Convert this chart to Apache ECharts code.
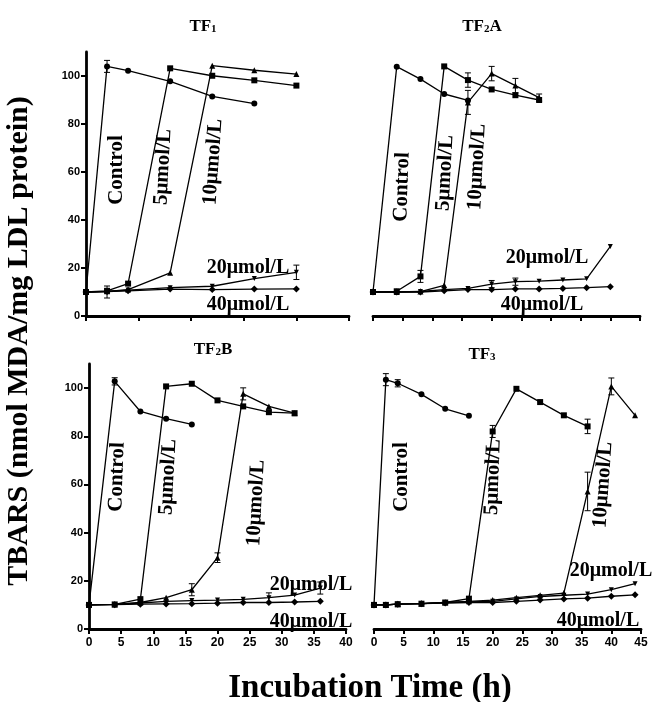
<!DOCTYPE html>
<html>
<head>
<meta charset="utf-8">
<script src="https://cdn.jsdelivr.net/npm/echarts@6/dist/echarts.min.js"></script>
<style>html,body{margin:0;padding:0;background:#fff}#c{width:654px;height:702px}</style>
</head>
<body>
<div id="c"></div>
<script>
// ---- data ----
var yTicks = [0, 20, 40, 60, 80, 100];
var seriesNames = ['Control', '5\u03bcmol/L', '10\u03bcmol/L', '20\u03bcmol/L', '40\u03bcmol/L'];

// TF1
var tf1Times = [0, 4, 8, 16, 24, 32, 40];
var tf1Control = [10, 104, 102.2, 97.8, 91.5, 88.5];
var tf1C5 = [10, 10.5, 13.5, 103.2, 100.1, 98.2, 96];
var tf1C10 = [10, 10.3, 11, 18, 104.3, 102.4, 100.8];
var tf1C20 = [10, 10.2, 10.8, 11.8, 12.4, 15.6, 18.2];
var tf1C40 = [10, 10.2, 10.5, 11.2, 11, 11.2, 11.3];
var tf1Err = [[4, 104, 2.5], [4, 10, 2.5], [40, 18.2, 3]];

// TF2A
var tf2aTimes = [0, 4, 8, 12, 16, 20, 24, 28, 32, 36, 40];
var tf2aControl = [10, 103.9, 98.7, 92.5, 89.8];
var tf2aC5 = [10, 10.3, 16.5, 104, 98.3, 94.4, 92, 90];
var tf2aC10 = [10, 10, 10.2, 12.8, 89, 101, 96, 91];
var tf2aC20 = [10, 10, 10.2, 11, 11.5, 13.3, 14.3, 14.5, 15, 15.5, 29];
var tf2aC40 = [10, 10, 10, 10.5, 11, 11, 11.3, 11.3, 11.5, 11.8, 12.2];
var tf2aErr = [[8, 16.5, 2.5], [16, 98.3, 3], [16, 89, 5], [20, 101, 3], [24, 96, 3], [28, 91, 1.5], [20, 13.3, 1.5], [24, 14.3, 1.5]];

// TF2B
var tf2bTimes = [0, 4, 8, 12, 16, 20, 24, 28, 32, 36];
var tf2bControl = [10, 102.8, 90.3, 87.3, 84.9];
var tf2bC5 = [10, 10.2, 12.4, 100.7, 101.8, 94.9, 92.4, 90, 89.6];
var tf2bC10 = [10, 10.2, 11, 13, 16.3, 29.6, 97.6, 92.4, 89.6];
var tf2bC20 = [10, 10.2, 10.8, 11.5, 11.8, 12, 12.3, 13, 14.1, 17];
var tf2bC40 = [10, 10.1, 10.3, 10.4, 10.5, 10.7, 11, 11, 11.2, 11.5];
var tf2bErr = [[4, 102.8, 1.5], [16, 16.3, 2.5], [20, 29.6, 2], [24, 97.6, 2.5], [28, 13, 2], [36, 17, 2.5]];

// TF3
var tf3Times = [0, 2, 4, 8, 12, 16, 20, 24, 28, 32, 36, 40, 44];
var tf3Control = [10, 103.5, 102, 97.4, 91.4, 88.5];
var tf3C5 = [10, 10, 10.3, 10.5, 11, 12.6, 82, 99.7, 94.2, 88.7, 84.1];
var tf3C10 = [10, 10, 10.3, 10.5, 11, 11.5, 12, 13, 14, 14.9, 57.1, 100.7, 88.7];
var tf3C20 = [10, 10, 10.3, 10.5, 11, 11.2, 11.5, 12.5, 13.5, 14, 14.5, 16.3, 18.8];
var tf3C40 = [10, 10, 10.3, 10.5, 10.8, 11, 11, 11.5, 12, 12.5, 12.8, 13.6, 14.2];
var tf3Err = [[2, 103.5, 2.5], [4, 102, 1.5], [20, 82, 2.5], [36, 84.1, 3], [36, 57.1, 8], [40, 100.7, 3.5]];

// ---- build ----
var chart = echarts.init(document.getElementById('c'), null, {renderer: 'canvas'});
var serif = '"Liberation Serif", "Times New Roman", serif';
var sans = '"Liberation Sans", Arial, sans-serif';

var grids = [
  {left: 86, top: 52, width: 263, height: 264},
  {left: 373, top: 52, width: 267, height: 264},
  {left: 89, top: 364, width: 257, height: 265},
  {left: 374, top: 364, width: 267, height: 265}
];
var xRanges = [[0, 50, 10], [0, 45, 5], [0, 40, 5], [0, 45, 5]];
var showXLabels = [false, false, true, true];
var showYAxis = [true, false, true, false];

var xAxes = grids.map(function (g, i) {
  return {
    type: 'value', gridIndex: i, min: xRanges[i][0], max: xRanges[i][1], interval: xRanges[i][2],
    axisLine: {show: true, onZero: false, lineStyle: {color: '#000', width: 2.8}},
    axisTick: {show: true, length: 5, lineStyle: {color: '#000', width: 2}},
    axisLabel: {show: showXLabels[i], color: '#000', fontFamily: sans, fontWeight: 'bold', fontSize: 12, margin: 8},
    splitLine: {show: false}
  };
});
var yAxes = grids.map(function (g, i) {
  return {
    type: 'value', gridIndex: i, min: 0, max: 110, interval: 20,
    axisLine: {show: showYAxis[i], lineStyle: {color: '#000', width: 2.8}},
    axisTick: {show: showYAxis[i], length: 5, lineStyle: {color: '#000', width: 2},
      customValues: yTicks},
    axisLabel: {show: showYAxis[i], color: '#000', fontFamily: sans, fontWeight: 'bold', fontSize: 11, margin: 6,
      customValues: yTicks},
    splitLine: {show: false}
  };
});

var panels = [
  {times: tf1Times, sets: [tf1Control, tf1C5, tf1C10, tf1C20, tf1C40], err: tf1Err},
  {times: tf2aTimes, sets: [tf2aControl, tf2aC5, tf2aC10, tf2aC20, tf2aC40], err: tf2aErr},
  {times: tf2bTimes, sets: [tf2bControl, tf2bC5, tf2bC10, tf2bC20, tf2bC40], err: tf2bErr},
  {times: tf3Times, sets: [tf3Control, tf3C5, tf3C10, tf3C20, tf3C40], err: tf3Err}
];
var symbols = ['circle', 'rect', 'triangle', 'path://M0,0L10,0L5,10Z', 'diamond'];

var series = [];
panels.forEach(function (p, pi) {
  p.sets.forEach(function (vals, si) {
    series.push({
      type: 'line', name: seriesNames[si], xAxisIndex: pi, yAxisIndex: pi,
      data: vals.map(function (v, k) { return [p.times[k], v]; }),
      symbol: symbols[si], symbolSize: si === 4 ? 7 : (si === 3 ? 5 : 6), showSymbol: true,
      lineStyle: {color: '#000', width: 1.3}, itemStyle: {color: '#000'},
      silent: true, z: 3
    });
  });
  series.push({
    type: 'custom', xAxisIndex: pi, yAxisIndex: pi, silent: true, z: 4,
    data: p.err,
    renderItem: function (params, api) {
      var x = api.value(0), y = api.value(1), e = api.value(2);
      var hi = api.coord([x, y + e]), lo = api.coord([x, y - e]);
      var w = 3;
      return {type: 'group', children: [
        {type: 'line', shape: {x1: hi[0], y1: hi[1], x2: lo[0], y2: lo[1]}, style: {stroke: '#000', lineWidth: 1}},
        {type: 'line', shape: {x1: hi[0] - w, y1: hi[1], x2: hi[0] + w, y2: hi[1]}, style: {stroke: '#000', lineWidth: 1}},
        {type: 'line', shape: {x1: lo[0] - w, y1: lo[1], x2: lo[0] + w, y2: lo[1]}, style: {stroke: '#000', lineWidth: 1}}
      ]};
    }
  });
});

function vtext(x, y, txt, rot) {
  return {type: 'text', x: x, y: y, rotation: (rot || 90) * Math.PI / 180, z: 10,
    style: {text: txt, font: 'bold 21px ' + serif, fill: '#000', align: 'center', verticalAlign: 'middle'}};
}
function htext(x, y, txt) {
  return {type: 'text', x: x, y: y, z: 10,
    style: {text: txt, font: 'bold 20px ' + serif, fill: '#000', align: 'center', verticalAlign: 'middle'}};
}
function title(x, y, a, sub, b) {
  return {type: 'text', x: x, y: y, z: 10,
    style: {text: '{m|' + a + '}{s|' + sub + '}{m|' + b + '}', align: 'center', verticalAlign: 'middle',
      rich: {
        m: {font: 'bold 17px ' + serif, fill: '#000', verticalAlign: 'bottom', lineHeight: 20},
        s: {font: 'bold 11px ' + serif, fill: '#000', verticalAlign: 'bottom', lineHeight: 16}
      }}};
}

var graphics = [
  title(203, 25, 'TF', '1', ''),
  title(482, 25, 'TF', '2', 'A'),
  title(213, 348, 'TF', '2', 'B'),
  title(482, 353, 'TF', '3', ''),
  // TF1
  vtext(117, 170, 'Control', 90), vtext(163, 167, '5\u03bcmol/L', 87), vtext(213, 162, '10\u03bcmol/L', 86),
  htext(248, 268, '20\u03bcmol/L'), htext(248, 305, '40\u03bcmol/L'),
  // TF2A
  vtext(402, 187, 'Control', 88), vtext(445, 173, '5\u03bcmol/L', 87), vtext(477, 167, '10\u03bcmol/L', 87),
  htext(547, 258, '20\u03bcmol/L'), htext(542, 305, '40\u03bcmol/L'),
  // TF2B
  vtext(117, 477, 'Control', 88), vtext(168, 477, '5\u03bcmol/L', 87), vtext(256, 503, '10\u03bcmol/L', 87),
  htext(311, 585, '20\u03bcmol/L'), htext(311, 622, '40\u03bcmol/L'),
  // TF3
  vtext(402, 477, 'Control', 90), vtext(493, 477, '5\u03bcmol/L', 88), vtext(603, 485, '10\u03bcmol/L', 86),
  htext(611, 571, '20\u03bcmol/L'), htext(598, 621, '40\u03bcmol/L'),
  // axis titles
  {type: 'text', x: 19, y: 341, rotation: Math.PI / 2, z: 10,
    style: {text: 'TBARS (nmol MDA/mg LDL protein)', font: 'bold 30px ' + serif, fill: '#000', align: 'center', verticalAlign: 'middle'}},
  {type: 'text', x: 370, y: 688, z: 10,
    style: {text: 'Incubation Time (h)', font: 'bold 33px ' + serif, fill: '#000', align: 'center', verticalAlign: 'middle'}}
];

chart.setOption({
  animation: false,
  backgroundColor: '#fff',
  grid: grids,
  xAxis: xAxes,
  yAxis: yAxes,
  series: series,
  graphic: graphics
});
</script>
</body>
</html>
